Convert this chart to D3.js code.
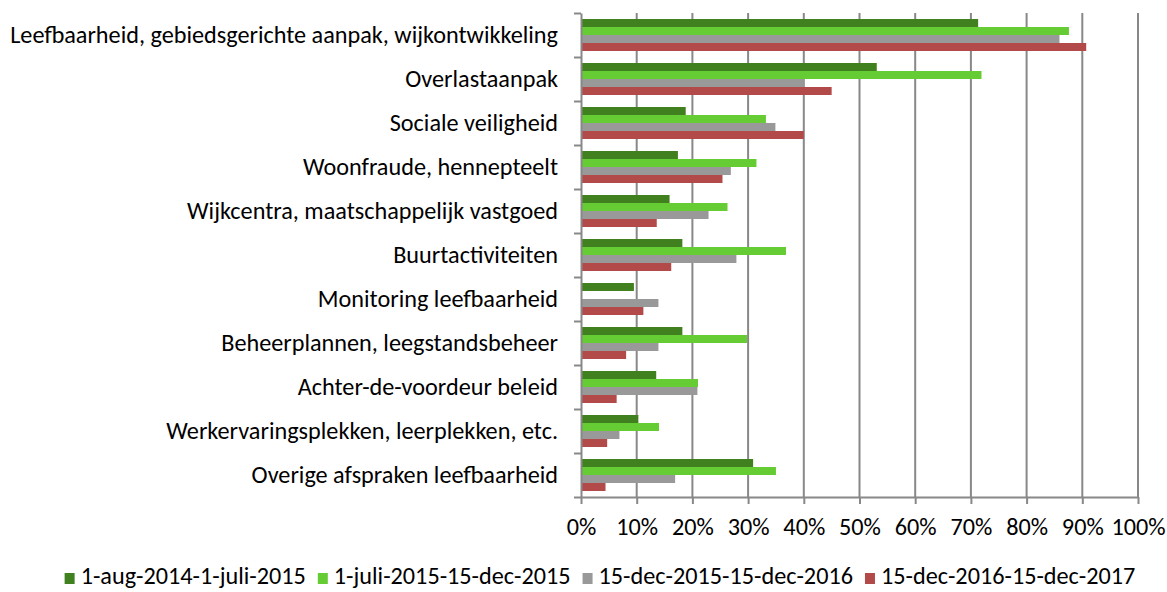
<!DOCTYPE html>
<html>
<head>
<meta charset="utf-8">
<script src="https://cdn.jsdelivr.net/npm/d3@7"></script>
<style>
  body { margin: 0; background: #fff; }
</style>
</head>
<body>
<div id="chart"></div>
<script>
const categories = [
  "Leefbaarheid, gebiedsgerichte aanpak, wijkontwikkeling",
  "Overlastaanpak",
  "Sociale veiligheid",
  "Woonfraude, hennepteelt",
  "Wijkcentra, maatschappelijk vastgoed",
  "Buurtactiviteiten",
  "Monitoring leefbaarheid",
  "Beheerplannen, leegstandsbeheer",
  "Achter-de-voordeur beleid",
  "Werkervaringsplekken, leerplekken, etc.",
  "Overige afspraken leefbaarheid"
];
const seriesNames = [
  "1-aug-2014-1-juli-2015",
  "1-juli-2015-15-dec-2015",
  "15-dec-2015-15-dec-2016",
  "15-dec-2016-15-dec-2017"
];
const seriesColors = ["#41801f", "#66cc33", "#999999", "#b34a4a"];

// percentages per series, same order as categories
const values2014 = [71.3, 53.1, 18.8, 17.4, 15.9, 18.2, 9.5, 18.2, 13.5, 10.3, 30.9];
const values2015 = [87.6, 71.9, 33.2, 31.5, 26.3, 36.8, 0, 29.8, 21.0, 14.0, 35.0];
const values2016 = [85.9, 40.0, 34.9, 26.9, 22.9, 27.9, 13.9, 13.9, 20.9, 6.9, 16.9];
const values2017 = [90.7, 45.0, 40.0, 25.4, 13.6, 16.2, 11.2, 8.1, 6.4, 4.7, 4.4];
const xTicks = [0, 10, 20, 30, 40, 50, 60, 70, 80, 90, 100];

function drawChart() {
  const W = 1167, H = 592;
  const plot = { left: 581, right: 1138, top: 13, bottom: 497 };
  const axisColor = "#888888";
  const FONT = "Carlito, 'Open Sans', sans-serif";

  const svg = d3.select("#chart").append("svg")
      .attr("width", W)
      .attr("height", H)
      .style("font-family", FONT);

  // size the text so the longest label is as wide as in the original
  const probe = svg.append("text").style("font-size", "20px").text(categories[0]);
  const fs = 20 * 548 / probe.node().getComputedTextLength();
  probe.remove();

  const series = [values2014, values2015, values2016, values2017];

  const x = d3.scaleLinear().domain([0, 100]).range([plot.left, plot.right]);

  const pad = 12 / 44;
  const y = d3.scaleBand()
      .domain(categories)
      .range([plot.top, plot.bottom])
      .paddingInner(pad)
      .paddingOuter(pad / 2);
  const ySub = d3.scaleBand()
      .domain(d3.range(series.length))
      .range([0, y.bandwidth()]);

  // gridlines
  svg.append("g")
      .selectAll("line")
      .data(xTicks.slice(1))
      .join("line")
          .attr("x1", d => x(d))
          .attr("x2", d => x(d))
          .attr("y1", plot.top)
          .attr("y2", plot.bottom)
          .attr("stroke", axisColor)
          .attr("stroke-width", 2);

  // bars
  svg.append("g")
      .selectAll("g")
      .data(series)
      .join("g")
          .attr("fill", (d, i) => seriesColors[i])
      .each(function(vals, si) {
          d3.select(this).selectAll("rect")
              .data(vals)
              .join("rect")
                  .attr("x", x(0))
                  .attr("y", (d, i) => y(categories[i]) + ySub(si))
                  .attr("width", d => x(d) - x(0))
                  .attr("height", ySub.bandwidth());
      });

  // bottom axis
  const xAxis = svg.append("g")
      .attr("transform", `translate(0,${plot.bottom})`)
      .call(d3.axisBottom(x)
          .tickValues(xTicks)
          .tickFormat(d => d + "%")
          .tickSize(7)
          .tickSizeOuter(0)
          .tickPadding(31 - 0.71 * fs));
  xAxis.select(".domain").attr("stroke", axisColor).attr("stroke-width", 2);
  xAxis.selectAll(".tick line").attr("stroke", axisColor).attr("stroke-width", 2);
  xAxis.selectAll("text")
      .style("font-size", fs + "px")
      .style("font-family", FONT)
      .attr("fill", "#000");

  // left axis: ticks between categories
  const yEdge = d3.scaleLinear().domain([0, categories.length]).range([plot.top, plot.bottom]);
  const yTicks = svg.append("g")
      .attr("transform", `translate(${plot.left},0)`)
      .call(d3.axisLeft(yEdge)
          .tickValues(d3.range(categories.length + 1))
          .tickFormat("")
          .tickSize(7)
          .tickSizeOuter(0));
  yTicks.select(".domain").attr("stroke", axisColor).attr("stroke-width", 2);
  yTicks.selectAll(".tick line").attr("stroke", axisColor).attr("stroke-width", 2);

  // category labels
  const yLabels = svg.append("g")
      .attr("transform", `translate(${plot.left},0)`)
      .call(d3.axisLeft(y).tickSize(0).tickPadding(23));
  yLabels.select(".domain").remove();
  yLabels.selectAll("text")
      .style("font-size", fs + "px")
      .style("font-family", FONT)
      .attr("fill", "#000");

  // legend
  const legend = svg.append("g");
  const items = legend.selectAll("g")
      .data(seriesNames)
      .join("g");
  items.append("rect")
      .attr("width", 10)
      .attr("height", 11)
      .attr("y", -11)
      .attr("fill", (d, i) => seriesColors[i]);
  items.append("text")
      .attr("x", 16)
      .style("font-size", fs + "px")
      .text(d => d);

  let offset = 0;
  const widths = [];
  items.each(function() {
      widths.push(16 + d3.select(this).select("text").node().getComputedTextLength());
  });
  const gap = 12;
  const total = d3.sum(widths) + gap * (widths.length - 1);
  items.attr("transform", (d, i) => {
      const t = `translate(${offset},0)`;
      offset += widths[i] + gap;
      return t;
  });
  legend.attr("transform", `translate(${600 - total / 2},584)`);
}

document.addEventListener("DOMContentLoaded", drawChart);
</script>
</body>
</html>
